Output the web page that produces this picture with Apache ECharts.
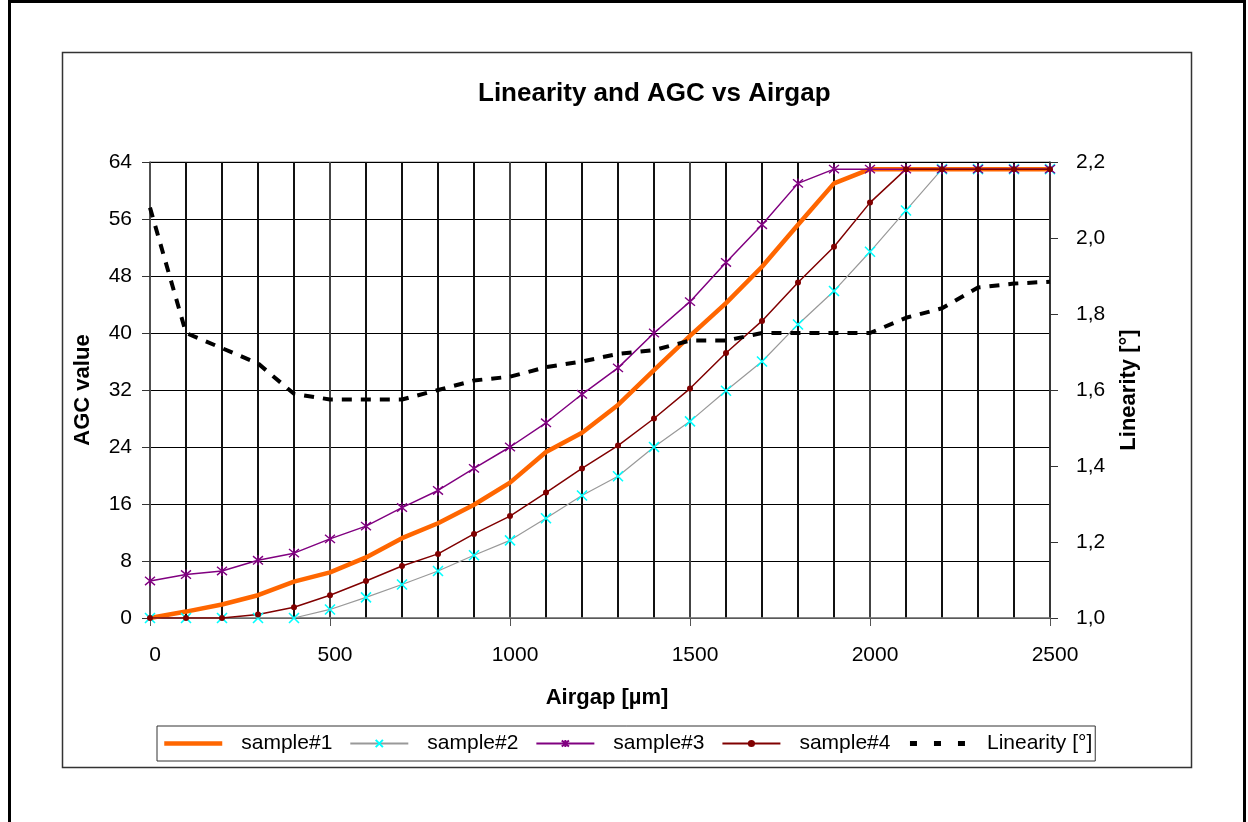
<!DOCTYPE html>
<html>
<head>
<meta charset="utf-8">
<script src="https://cdn.jsdelivr.net/npm/echarts@6/dist/echarts.min.js"></script>
<style>
html,body{margin:0;padding:0;background:#fff;}
#chart{width:1248px;height:822px;}
</style>
</head>
<body>
<div id="chart"></div>
<script>
// ---- data ----
var airgap = [0,100,200,300,400,500,600,700,800,900,1000,1100,1200,1300,1400,1500,1600,1700,1800,1900,2000,2100,2200,2300,2400,2500];
var sample1 = [0,0.9,1.9,3.2,5.1,6.4,8.5,11.2,13.3,15.9,19.0,23.3,26.0,29.9,34.8,39.6,44.2,49.3,55.2,61.0,63,63,63,63,63,63];
var sample2 = [0,0,0,0,0,1.2,2.9,4.7,6.6,8.8,10.9,14.0,17.2,19.9,24.0,27.6,31.9,36.0,41.2,45.9,51.4,57.2,63,63,63,63];
var sample3 = [5.2,6.1,6.6,8.1,9.1,11.1,12.9,15.5,17.9,21.0,24.0,27.4,31.4,35.1,40.0,44.4,49.9,55.2,61.0,63,63,63,63,63,63,63];
var sample4 = [0,0,0,0.5,1.5,3.2,5.2,7.3,9.0,11.8,14.3,17.6,21.0,24.2,28.0,32.2,37.2,41.7,47.1,52.1,58.3,63,63,63,63,63];
var linearity = [2.08,1.75,1.71,1.67,1.59,1.575,1.575,1.575,1.60,1.625,1.635,1.66,1.675,1.695,1.705,1.73,1.73,1.75,1.75,1.75,1.75,1.79,1.815,1.87,1.88,1.885];
var seriesNames = ['sample#1','sample#2','sample#3','sample#4','Linearity [°]'];
var chartTitle = 'Linearity and AGC vs Airgap';
var xName = 'Airgap [µm]';
var yLeftName = 'AGC value';
var yRightName = 'Linearity [°]';

function pairs(ys){ return airgap.map(function(x,i){ return [x, ys[i]]; }); }

var FONT = '"Liberation Sans", Arial, sans-serif';
var xSym = 'path://M0,0L10,10M10,0L0,10';
var starSym = 'path://M0,0L10,10M10,0L0,10M5,-1L5,11';

var chart = echarts.init(document.getElementById('chart'), null, {renderer:'canvas'});
chart.setOption({
  animation:false,
  backgroundColor:'#fff',
  textStyle:{fontFamily:FONT},
  title:{
    text:chartTitle, left:473, top:76,
    textStyle:{fontFamily:FONT, fontSize:26, fontWeight:'bold', color:'#000'}
  },
  graphic:[
    {type:'rect', shape:{x:9.5,y:1.5,width:1235,height:840}, style:{fill:'none', stroke:'#000', lineWidth:3}, silent:true, z:-10},
    {type:'rect', shape:{x:62.5,y:52.5,width:1129,height:715}, style:{fill:'none', stroke:'#333', lineWidth:1.5}, silent:true, z:-10}
  ],
  legend:{
    left:157, top:726,
    padding:[7,3,7,5],
    itemGap:17, itemWidth:58, itemHeight:9,
    borderColor:'#333', borderWidth:1,
    textStyle:{fontFamily:FONT, fontSize:21, color:'#000', padding:[0,0,0,14]},
    data:[
      {name:seriesNames[0], itemStyle:{opacity:0}, lineStyle:{width:4.5}},
      {name:seriesNames[1]},
      {name:seriesNames[2]},
      {name:seriesNames[3]},
      {name:seriesNames[4], itemStyle:{opacity:0}, lineStyle:{width:5, type:[7,17]}}
    ]
  },
  grid:{left:150, right:198, top:162, bottom:204, show:true, borderColor:'#888', borderWidth:1, backgroundColor:'transparent'},
  xAxis:{
    type:'value', min:0, max:2500, interval:500,
    name:xName, nameLocation:'middle', nameGap:69,
    nameTextStyle:{fontFamily:FONT, fontSize:22, fontWeight:'bold', color:'#000', padding:[0,0,0,14]},
    axisLine:{show:true, onZero:false, lineStyle:{color:'#777', width:1.5}},
    axisTick:{show:true, length:8, lineStyle:{color:'#555'}},
    axisLabel:{fontFamily:FONT, fontSize:21, color:'#000', margin:27, padding:[0,0,0,10],
      formatter:function(v){ return String(v); }},
    splitLine:{show:true, lineStyle:{color:'#444', width:2}},
    minorTick:{show:false, splitNumber:5},
    minorSplitLine:{show:true, lineStyle:{color:'#111', width:2}}
  },
  yAxis:[
    {
      type:'value', min:0, max:64, interval:8, position:'left',
      name:yLeftName, nameLocation:'middle', nameGap:56,
      nameTextStyle:{fontFamily:FONT, fontSize:22, fontWeight:'bold', color:'#000'},
      axisLine:{show:true, lineStyle:{color:'#555', width:1.5}},
      axisTick:{show:true, length:8, lineStyle:{color:'#333'}},
      axisLabel:{fontFamily:FONT, fontSize:21, color:'#000', margin:18},
      splitLine:{show:true, lineStyle:{color:'#000', width:1}}
    },
    {
      type:'value', min:1.0, max:2.2, interval:0.2, position:'right',
      name:yRightName, nameLocation:'middle', nameGap:68, nameRotate:90,
      nameTextStyle:{fontFamily:FONT, fontSize:22, fontWeight:'bold', color:'#000'},
      axisLine:{show:true, lineStyle:{color:'#333', width:1.5}},
      axisTick:{show:true, length:8, lineStyle:{color:'#333'}},
      axisLabel:{fontFamily:FONT, fontSize:21, color:'#000', margin:26,
        formatter:function(v){ return v.toFixed(1).replace('.', ','); }},
      splitLine:{show:false}
    }
  ],
  series:[
    {name:seriesNames[0], type:'line', data:pairs(sample1), yAxisIndex:0, symbol:'none',
     lineStyle:{color:'#FF6600', width:4.5}, itemStyle:{color:'#FF6600'}, z:3},
    {name:seriesNames[1], type:'line', data:pairs(sample2), yAxisIndex:0, symbol:xSym, symbolSize:10,
     lineStyle:{color:'#999999', width:1.2}, itemStyle:{color:'#00FFFF', borderColor:'#00FFFF', borderWidth:1.6}, z:4},
    {name:seriesNames[2], type:'line', data:pairs(sample3), yAxisIndex:0, symbol:starSym, symbolSize:10,
     lineStyle:{color:'#800080', width:1.5}, itemStyle:{color:'#800080', borderColor:'#800080', borderWidth:1.4}, z:4},
    {name:seriesNames[3], type:'line', data:pairs(sample4), yAxisIndex:0, symbol:'circle', symbolSize:6,
     lineStyle:{color:'#800000', width:1.5}, itemStyle:{color:'#800000'}, z:4},
    {name:seriesNames[4], type:'line', data:pairs(linearity), yAxisIndex:1, symbol:'none',
     lineStyle:{color:'#000', width:4, type:[10,9]}, itemStyle:{color:'#000'}, z:5}
  ]
});
</script>
</body>
</html>
